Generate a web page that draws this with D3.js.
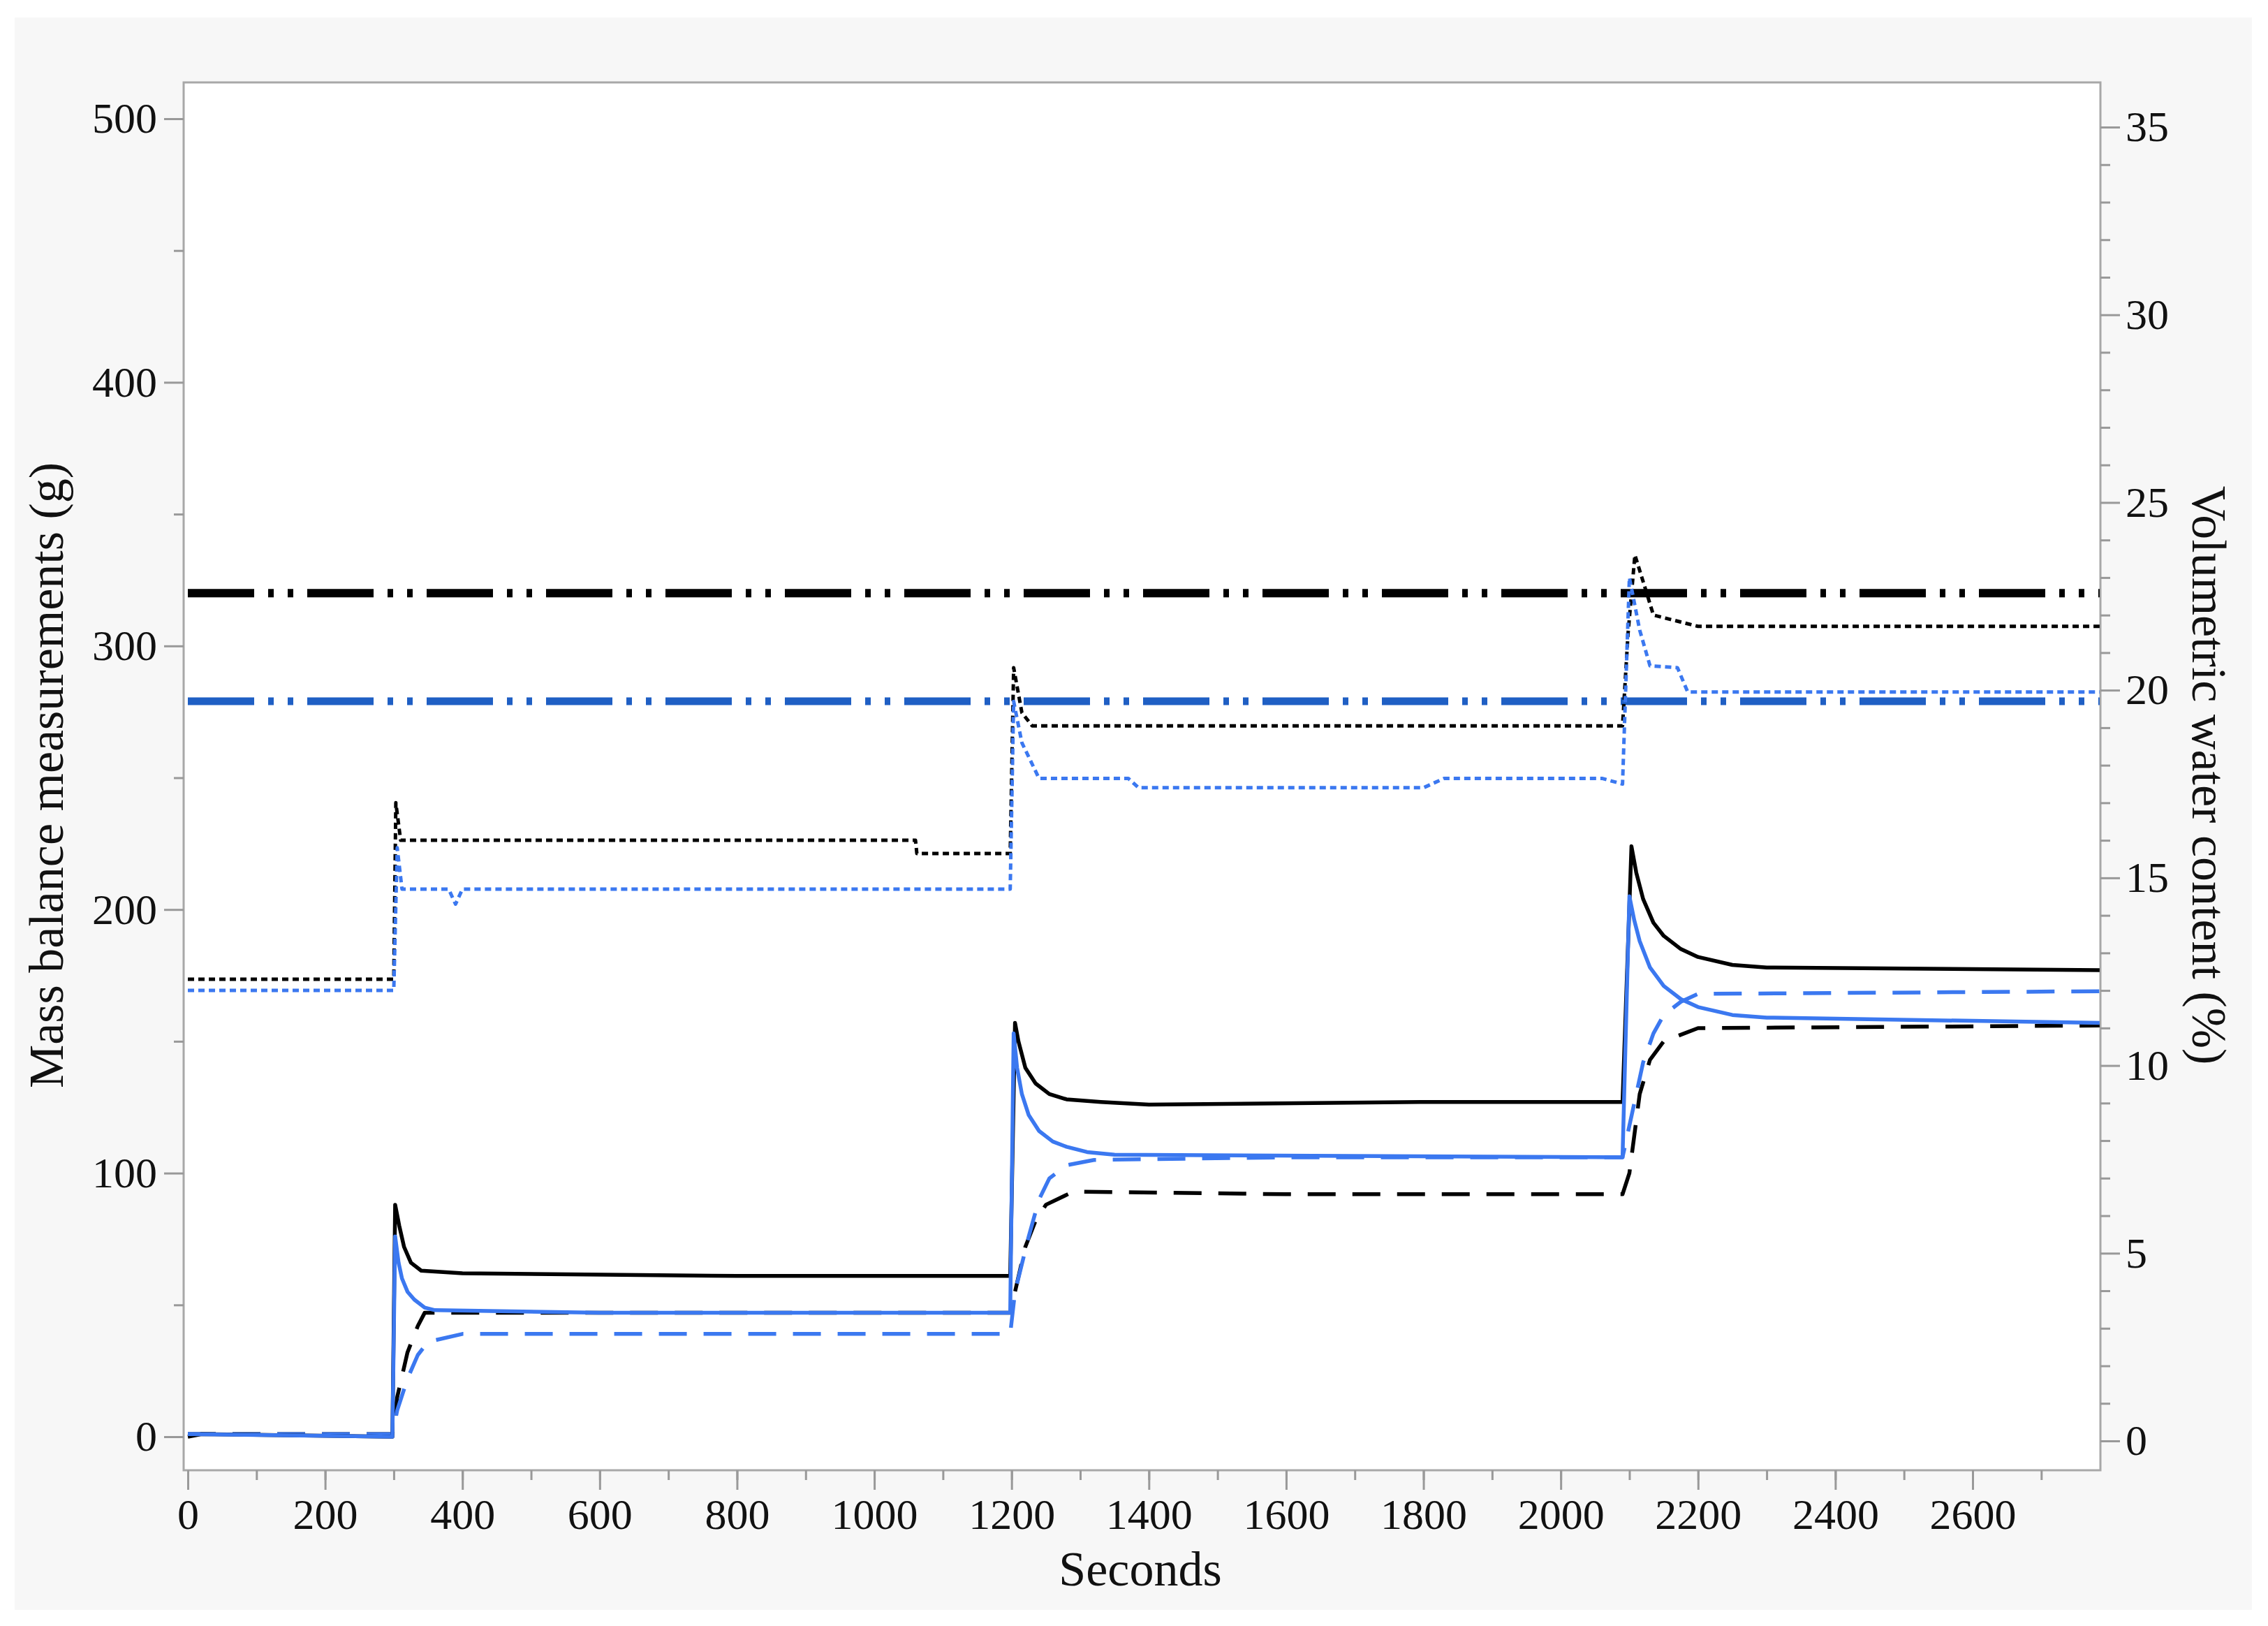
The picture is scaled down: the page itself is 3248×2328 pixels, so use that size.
<!DOCTYPE html>
<html><head><meta charset="utf-8">
<script src="https://cdn.jsdelivr.net/npm/d3@7"></script>
<style>body{margin:0;background:#fff}svg{display:block}text{font-family:"Liberation Serif","Times New Roman",serif;fill:#111}</style>
</head><body><svg id="c" width="3248" height="2328"></svg>
<script>
// Mass balance (g), left axis
const blackSolid=[[0,0],[20,1],[298,0],[302,88],[308,80],[315,72],[325,66],[340,63],[400,62],[800,61],[1198,61],[1205,157],[1210,150],[1220,140],[1235,134],[1255,130],[1280,128],[1330,127],[1400,126],[1800,127],[2090,127],[2103,224],[2110,214],[2120,204],[2135,195],[2150,190],[2175,185],[2200,182],[2250,179],[2300,178],[2785,177]];
const blueSolid=[[0,1],[298,0],[302,76],[307,66],[312,60],[320,55],[330,52],[345,49],[360,48],[600,47],[1198,47],[1203,153],[1208,140],[1215,130],[1225,122],[1240,116],[1260,112],[1280,110],[1310,108],[1350,107],[2090,106],[2100,205],[2107,196],[2115,188],[2130,178],[2150,171],[2175,166],[2200,163],[2250,160],[2300,159],[2785,157]];
const blackDashed=[[0,1],[298,1],[305,15],[320,32],[335,42],[345,47],[600,47],[1198,47],[1205,55],[1220,72],[1235,82],[1250,88],[1290,93],[1600,92],[2090,92],[2100,100],[2115,130],[2130,143],[2150,150],[2200,155],[2785,156]];
const blueDashed=[[0,1],[298,1],[305,10],[320,22],[335,31],[350,36],[400,39],[1198,39],[1205,55],[1225,76],[1240,90],[1255,98],[1280,103],[1320,105],[1600,106],[2090,106],[2100,118],[2120,142],[2135,153],[2150,160],[2175,165],[2200,168],[2785,169]];
const blackDashDot=[[0,320],[2785,320]];
const blueDashDot=[[0,279],[2785,279]];
// Volumetric water content (%), right axis
const blackDotted=[[0,12.3],[40,12.3],[300,12.3],[303,17.0],[310,16.0],[960,16.0],[1060,16.0],[1062,15.65],[1198,15.65],[1203,20.6],[1215,19.4],[1230,19.05],[2090,19.05],[2098,21.5],[2108,23.6],[2125,22.6],[2135,22.0],[2200,21.7],[2785,21.7]];
const blueDotted=[[0,12.0],[300,12.0],[305,15.8],[312,14.7],[380,14.7],[390,14.3],[400,14.7],[1198,14.7],[1203,19.7],[1215,18.6],[1240,17.65],[1370,17.65],[1385,17.4],[1800,17.4],[1830,17.65],[2060,17.65],[2090,17.5],[2100,23.0],[2115,21.6],[2130,20.65],[2170,20.6],[2185,19.95],[2785,19.95]];
const xTicks=[0,200,400,600,800,1000,1200,1400,1600,1800,2000,2200,2400,2600];
const yLeftTicks=[0,100,200,300,400,500];
const yRightTicks=[0,5,10,15,20,25,30,35];

const svg=d3.select("#c");
svg.append("rect").attr("x",21).attr("y",25).attr("width",3204).attr("height",2280).attr("fill","#f7f7f7");
const L=263,R=3008,T=118,B=2105;
svg.append("rect").attr("x",L).attr("y",T).attr("width",R-L).attr("height",B-T).attr("fill","#fff").attr("stroke","#a8a8a8").attr("stroke-width",3);
const x=d3.scaleLinear().domain([0,2600]).range([269,2825]);
const yL=d3.scaleLinear().domain([0,500]).range([2057,170]);
const yR=d3.scaleLinear().domain([0,35]).range([2063,182]);

function axisStyle(g){g.selectAll("path").remove();g.selectAll("line").attr("stroke","#999").attr("stroke-width",3);g.selectAll("text").attr("font-size",62).attr("font-family","Liberation Serif");}
const gx=svg.append("g").attr("transform",`translate(0,${B})`);
gx.call(d3.axisBottom(x).tickValues(d3.range(0,2701,100)).tickSize(14).tickFormat(()=>"")).call(axisStyle);
svg.append("g").attr("transform",`translate(0,${B})`)
  .call(d3.axisBottom(x).tickValues(xTicks).tickSize(28).tickPadding(12).tickFormat(d3.format("d"))).call(axisStyle);
svg.append("g").attr("transform",`translate(${L},0)`).call(d3.axisLeft(yL).tickValues(d3.range(50,500,100)).tickSize(14).tickFormat(()=>"")).call(axisStyle);
svg.append("g").attr("transform",`translate(${L},0)`).call(d3.axisLeft(yL).tickValues(yLeftTicks).tickSize(28).tickPadding(10)).call(axisStyle);
svg.append("g").attr("transform",`translate(${R},0)`).call(d3.axisRight(yR).tickValues(d3.range(0,36,1).filter(v=>v%5)).tickSize(14).tickFormat(()=>"")).call(axisStyle);
svg.append("g").attr("transform",`translate(${R},0)`).call(d3.axisRight(yR).tickValues(yRightTicks).tickSize(28).tickPadding(8)).call(axisStyle);

svg.append("text").attr("x",1633).attr("y",2270).attr("text-anchor","middle").attr("font-size",70).text("Seconds");
svg.append("text").attr("transform","translate(90,1110) rotate(-90)").attr("text-anchor","middle").attr("font-size",70).text("Mass balance measurements (g)");
svg.append("text").attr("transform","translate(3140,1110) rotate(90)").attr("text-anchor","middle").attr("font-size",70).text("Volumetric water content (%)");

svg.append("clipPath").attr("id","pc").append("rect").attr("x",L).attr("y",T).attr("width",R-L).attr("height",B-T);
const plot=svg.append("g").attr("clip-path","url(#pc)");
const lineL=d3.line().x(d=>x(d[0])).y(d=>yL(d[1]));
const lineR=d3.line().x(d=>x(d[0])).y(d=>yR(d[1]));
function draw(data,gen,color,w,dash){plot.append("path").datum(data).attr("d",gen).attr("fill","none").attr("stroke",color).attr("stroke-width",w).attr("stroke-dasharray",dash||null).attr("stroke-linejoin","round");}
draw(blackDashDot,lineL,"#000",12,"95,20,8,20,8,20");
draw(blueDashDot,lineL,"#1f5fc4",11,"95,20,8,20,8,20");
draw(blackDotted,lineR,"#000",5,"9,6");
draw(blueDotted,lineR,"#3b78f0",5,"9,6");
draw(blackDashed,lineL,"#000",5.5,"40,24");
draw(blueDashed,lineL,"#3b78f0",5.5,"40,24");
draw(blackSolid,lineL,"#000",5.5);
draw(blueSolid,lineL,"#3b78f0",5.5);
</script></body></html>
